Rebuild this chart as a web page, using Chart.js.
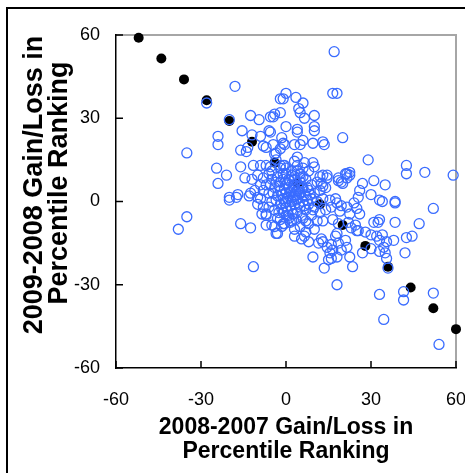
<!DOCTYPE html>
<html>
<head>
<meta charset="utf-8">
<script src="https://cdn.jsdelivr.net/npm/chart.js@4.4.1/dist/chart.umd.min.js"></script>
<style>
  html, body { margin: 0; padding: 0; background: #fff; }
  canvas { display: block; }
</style>
</head>
<body>
<canvas id="chart" width="465" height="473"></canvas>
<script>
/* ---------- Datos ---------- */
const xTicks = [-60, -30, 0, 30, 60];
const yTicks = [-60, -30, 0, 30, 60];
const xTitle = ['2008-2007 Gain/Loss in', 'Percentile Ranking'];
const yTitle = ['2009-2008 Gain/Loss in', 'Percentile Ranking'];

// puntos negros (recta de ajuste)
const fitX = [-52, -44, -36, -28, -20, -12, -4, 4, 12, 20, 28, 36, 44, 52, 60];
const fitY = [59, 51.5, 44, 36.5, 29, 21.5, 14, 6.5, -1, -8.5, -16, -23.5, -31, -38.5, -46];

// círculos azules, por zona
const upperPts = [
  [17,54],[16.5,39],[18,39],[20,23],[29,15],[42.5,13],[42.5,10],[49,10.5],[59,9.5],
  [0,39],[-1,37],[3.5,37.5],[6,35.5],[4.5,33.5],[5,32],[6.5,30],[10,31],[10,27],[10,25.5],
  [0,27],[4,26],[4,25],[6,22],[3,20.5],[5,20.5],[9.5,21],[13,21.5],[13.5,20.5],[-1,21],
  [-1.5,23],[-2,32],[4,16],[3,14.5],[6.5,14],[9.5,14],[10,12.5],[-1,13],
  [21.5,10],[22.5,9.5],[14.5,9.5],[18.5,8.5],[-4.5,30.5],[-4,31.5],[-5.5,25],[-4,17],
  [-5.5,12.5],[-2,12],[-3.5,17.5],[-0.5,20.5],[-2,19],[-3.5,15],[-0.5,13]
];
const leftPts = [
  [-18,41.5],[-2,37],[-28,35.5],[-20,29.5],[-12.5,31],[-9.5,29.5],[-5.5,30.5],
  [-15.5,25.5],[-12,24],[-9,23.5],[-6,25.5],[-24,23.5],[-24,20.5],[-35,17.5],[-16,18.5],
  [-13.5,19.5],[-14,18],[-8,20],[-7,19.5],[-4.5,20.5],
  [-24.5,12],[-21,9.5],[-24,6.5],[-16,12.5],[-14.5,8.5],[-11.5,13],[-9,13],[-7,13],[-6,10],
  [-10,9.5],[-8,8.5],[-20,1.5],[-17.5,1.5],[-17,2.5],[-12.5,3],[-10,1.5],[-20,0.5],
  [-35,-5.5],[-38,-10],[-16,-8],[-12.5,-9.5],[-8.5,-4.5],[-7,-4.5],[-8,-2],[-7,-8.5],
  [-3,-11.5],[-1.5,-9],[-11.5,-23.5],[-5,-8.5],[-3.5,-11.5]
];
const rightPts = [
  [21,10],[22.5,10.5],[21.5,8.5],[19.5,7],[20,6.5],[18.5,7.5],[27,6.5],[31,7.5],[35,6],
  [13,9.5],[14.5,8.5],[12.5,6.5],[13,5.5],[26,4],[25.5,1.5],[30,2.5],[33,0.5],[38.5,0],
  [38.5,-0.5],[34,0],[15.5,0.5],[17.5,1],[18,-0.5],[16,-2],[19.5,-1.5],[21.5,-2],[24,-0.5],
  [25,-2.5],[26,-4.5],[22.5,-4.5],[19,-3.5],[16.5,-6.5],[18.5,-8],[22,-7.5],[24.5,-8.5],
  [23,-9.5],[25.5,-10.5],[28,-11],[31,-7.5],[32.5,-7.5],[33,-6.5],[38.5,-7.5],[47,-8],[52,-2.5],
  [30,-12],[32,-12.5],[34,-12],[33,-14],[35.5,-14.5],[38,-14],[42.5,-13],[44.5,-12.5],
  [42,-18.5],[35,-18.5],[35.5,-20.5],[-0.5,-8],[1.5,-7.5],[3,-12.5],[5.5,-13.5],[8,-14.5],
  [6.5,-12.5],[11.5,-15],[12.5,-13.5],[14.5,-16.5],[17.5,-12.5],[18.5,-15],[19.5,-17.5],
  [21.5,-16.5],[15.5,-18.5],[18,-20],[22.5,-20],[27,-18.5],[33,-18],[34.5,-16.5],[30,-17],
  [25,-10.5],[18,-11.5],[21,-14],[13,-14.5],[16,-15.5],[16.5,-17.5],[16,-20.5],[15,-21],[9.5,-20],
  [13.5,-24],[23.5,-23.5],[18,-30],[33,-33.5],[41.5,-32.5],[41.5,-35.5],[52,-33],[34.5,-42.5],
  [54,-51.5],[36,-24]
];
const corePts = [
  [-7,6],[-6,3],[-5,8],[-5,0],[-4,5],[-4,-3],[-3,2],[-3,9],[-3,-6],[-2,4],[-2,-1],[-2,7],
  [-1,1],[-1,10],[-1,-4],[0,3],[0,6],[0,-2],[0,0],[1,8],[1,2],[1,-5],[1,5],[2,0],[2,4],
  [2,11],[2,-3],[3,6],[3,2],[3,-1],[3,9],[4,4],[4,-4],[4,1],[5,7],[5,-2],[5,3],[5,10],
  [6,0],[6,5],[6,-6],[7,2],[7,8],[7,-3],[8,4],[8,-1],[8,11],[9,6],[9,1],[9,-5],[10,3],
  [10,-2],[11,7],[11,0],[12,4],[12,-4],[-6,-2],[-5,11],[-8,4],[-7,-5],[-2,13],[0,12],
  [4,13],[6,12],[-1,-8],[2,-7],[5,-9],[8,-8],[10,-10],[3,-10],[-4,-9],[7,-11],[11,-7],
  [13,1],[14,-3],[13,-7],[12,9],[14,5],[-9,1],[-9,6],[-10,-1],[-11,4],[-12,8],[-13,2]
];
// núcleo más denso, alrededor de (2, 2)
const densePts = [
  [-1.5,2.5],[-0.5,4.5],[0.5,1],[1.5,3.5],[2.5,5.5],[3.5,0.5],[4.5,2.5],[5.5,4.5],
  [-0.5,-0.5],[1.5,-1.5],[2.5,1.5],[3.5,3.5],[4.5,5.5],[6.5,2.5],[0.5,6.5],[-2.5,5.5],
  [-1.5,-2.5],[0.5,-3.5],[2.5,-4.5],[4.5,-1],[6.5,-1.5],[7.5,0.5],[-3.5,0.5],[-2.5,-4],
  [1,7.5],[3,8],[5,8.5],[-1,8],[6,9],[2,9.5],[0,10],[4,11],[7.5,5],[8.5,2.5],[9.5,-3],
  [-4.5,3],[-5.5,6],[-3.5,7],[1,-6],[3.5,-6.5],[5.5,-5],[7,-7],[-2,-6.5],[0,-5]
];

/* ---------- Estilo ---------- */
const FONT = "'Liberation Sans', Arial, sans-serif";
const BLUE = '#3a6cff';

const toXY = pts => pts.map(p => ({ x: p[0], y: p[1] }));
const circles = toXY([].concat(upperPts, leftPts, rightPts, corePts, densePts));
const fitLine = fitX.map((x, i) => ({ x, y: fitY[i] }));

/* ---------- Marco, marcas hacia dentro y títulos ---------- */
const decor = {
  id: 'decor',
  beforeDraw(chart) {
    const { ctx, chartArea: a } = chart;
    ctx.save();
    ctx.strokeStyle = '#000';
    ctx.lineWidth = 2;
    ctx.strokeRect(7, 8, 480, 490);
    ctx.strokeStyle = '#a6a6a6';
    ctx.lineWidth = 2;
    ctx.beginPath();
    ctx.moveTo(a.left, a.top);
    ctx.lineTo(a.right, a.top);
    ctx.lineTo(a.right, a.bottom);
    ctx.stroke();
    ctx.restore();
  },
  afterDraw(chart) {
    const { ctx, chartArea: a, scales } = chart;
    ctx.save();
    ctx.strokeStyle = '#000';
    ctx.lineWidth = 1.5;
    ctx.beginPath();
    xTicks.forEach(v => {
      const px = scales.x.getPixelForValue(v);
      ctx.moveTo(px, a.bottom); ctx.lineTo(px, a.bottom - 7);
    });
    yTicks.forEach(v => {
      const py = scales.y.getPixelForValue(v);
      ctx.moveTo(a.left, py); ctx.lineTo(a.left + 7, py);
    });
    ctx.stroke();

    ctx.fillStyle = '#000';
    ctx.textAlign = 'center';
    ctx.textBaseline = 'alphabetic';
    ctx.font = 'bold 23px ' + FONT;
    ctx.fillText(xTitle[0], 286, 434);
    ctx.fillText(xTitle[1], 286, 458);

    ctx.font = 'bold 27px ' + FONT;
    [[42, 185], [67, 183]].forEach((pos, i) => {
      ctx.save();
      ctx.translate(pos[0], pos[1]);
      ctx.rotate(-Math.PI / 2);
      ctx.fillText(yTitle[i], 0, 0);
      ctx.restore();
    });
    ctx.restore();
  }
};

new Chart(document.getElementById('chart'), {
  type: 'scatter',
  data: {
    datasets: [
      {
        label: 'Gain/Loss',
        data: circles,
        pointStyle: 'circle',
        pointRadius: 5,
        pointBorderWidth: 1.3,
        pointBorderColor: BLUE,
        pointBackgroundColor: 'rgba(0,0,0,0)',
        clip: false
      },
      {
        label: 'Fit',
        data: fitLine,
        pointStyle: 'circle',
        pointRadius: 5,
        pointBorderWidth: 0,
        pointBackgroundColor: '#000',
        pointBorderColor: '#000',
        clip: false
      }
    ]
  },
  options: {
    responsive: false,
    animation: false,
    events: [],
    layout: { padding: { top: 35, right: 9, bottom: 0, left: 0 } },
    plugins: { legend: { display: false }, tooltip: { enabled: false } },
    scales: {
      x: {
        type: 'linear', min: -60, max: 60,
        afterBuildTicks: s => { s.ticks = xTicks.map(v => ({ value: v })); },
        afterFit: s => { s.height = 105; s.paddingLeft = 0; s.paddingRight = 0; },
        grid: { display: false, drawTicks: false },
        border: { display: true, color: '#000', width: 1.5 },
        ticks: { color: '#000', padding: 21, font: { family: FONT, size: 18 }, maxRotation: 0 }
      },
      y: {
        type: 'linear', min: -60, max: 60,
        afterBuildTicks: s => { s.ticks = yTicks.map(v => ({ value: v })); },
        afterFit: s => { s.width = 116; s.paddingTop = 0; s.paddingBottom = 0; },
        grid: { display: false, drawTicks: false },
        border: { display: true, color: '#000', width: 1.5 },
        ticks: { color: '#000', padding: 16, font: { family: FONT, size: 18 } }
      }
    }
  },
  plugins: [decor]
});
</script>
</body>
</html>
